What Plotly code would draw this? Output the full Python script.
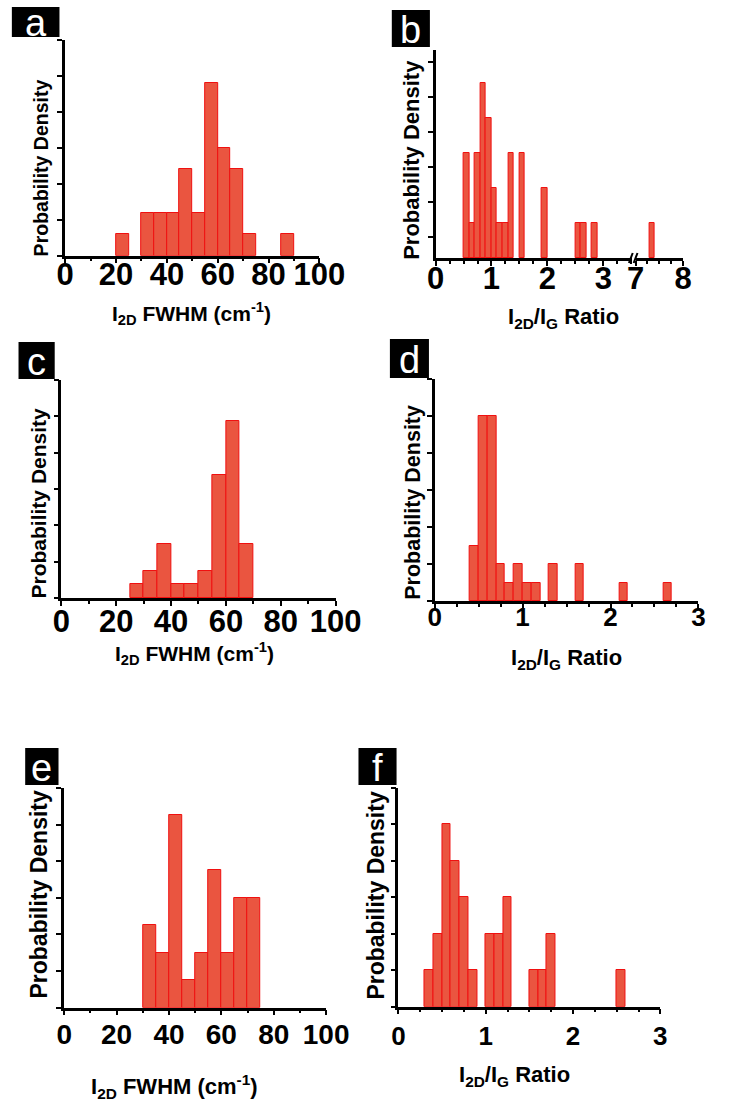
import plotly.graph_objects as go

W, H = 733, 1101

# ---------------- data (bin left edges, bin counts) ----------------
a_edges = [20, 30, 35, 40, 45, 50, 55, 60, 65, 70, 85]
a_counts = [1, 2, 2, 2, 4, 2, 8, 5, 4, 1, 1]
a_width = 5

b_edges = [0.5, 0.6, 0.7, 0.8, 0.9, 1.0, 1.1, 1.2, 1.3, 1.5, 1.9, 2.5, 2.6, 2.8, 7.3]
b_counts = [3, 1, 3, 5, 4, 2, 1, 1, 3, 3, 2, 1, 1, 1, 1]
b_width = 0.1

c_edges = [25, 30, 35, 40, 45, 50, 55, 60, 65]
c_counts = [1, 2, 4, 1, 1, 2, 9, 13, 4]
c_width = 5

d_edges = [0.4, 0.5, 0.6, 0.7, 0.8, 0.9, 1.0, 1.1, 1.3, 1.6, 2.1, 2.6]
d_counts = [3, 10, 10, 2, 1, 2, 1, 1, 2, 2, 1, 1]
d_width = 0.1

e_edges = [30, 35, 40, 45, 50, 55, 60, 65, 70]
e_counts = [3, 2, 7, 1, 2, 5, 2, 4, 4]
e_width = 5

f_edges = [0.3, 0.4, 0.5, 0.6, 0.7, 0.8, 1.0, 1.1, 1.2, 1.5, 1.6, 1.7, 2.5]
f_counts = [1, 2, 5, 4, 3, 1, 2, 2, 3, 1, 1, 2, 1]
f_width = 0.1

panel_letters = ["a", "b", "c", "d", "e", "f"]
fwhm_title = "I<sub>2D</sub> FWHM (cm<sup>-1</sup>)"
ratio_title = "I<sub>2D</sub>/I<sub>G</sub> Ratio"
y_title = "Probability Density"

# ---------------- styling ----------------
FILL = "#EA5540"
EDGE = "#F01010"
FONT = "Liberation Sans, Arial, sans-serif"


def px_x(p):
    return p / W


def px_y(p):
    return 1 - p / H


fig = go.Figure()


def add_bars(edges, counts, width, xa, ya):
    fig.add_trace(go.Bar(
        x=edges, y=counts, width=width, offset=0,
        marker=dict(color=FILL, line=dict(color=EDGE, width=1)),
        xaxis=xa, yaxis=ya, showlegend=False, hoverinfo="skip"))


add_bars(a_edges, a_counts, a_width, "x", "y")
b_left = [(e, c) for e, c in zip(b_edges, b_counts) if e < 4]
b_right = [(e, c) for e, c in zip(b_edges, b_counts) if e >= 4]
add_bars([e for e, _ in b_left], [c for _, c in b_left], b_width, "x2", "y2")
add_bars([e for e, _ in b_right], [c for _, c in b_right], b_width, "x7", "y2")
add_bars(c_edges, c_counts, c_width, "x3", "y3")
add_bars(d_edges, d_counts, d_width, "x4", "y4")
add_bars(e_edges, e_counts, e_width, "x5", "y5")
add_bars(f_edges, f_counts, f_width, "x6", "y6")


def xaxis(x0, x1, rng, dtick, minor, anchor, fsize, standoff):
    return dict(
        domain=[px_x(x0), px_x(x1)], range=rng, anchor=anchor,
        showline=True, linecolor="black", linewidth=2.5, mirror=False,
        showgrid=False, zeroline=False,
        ticks="outside", ticklen=5, tickwidth=2, tickcolor="black",
        dtick=dtick, tick0=0, tickangle=0,
        tickfont=dict(family=FONT, size=fsize, color="black", weight="bold"),
        ticklabelstandoff=standoff,
        minor=dict(dtick=minor, ticks="outside", ticklen=3, tickwidth=1.5,
                   tickcolor="black", showgrid=False),
        fixedrange=True)


def yaxis(top, base, rng, tick0, dtick, anchor):
    return dict(
        domain=[px_y(base), px_y(top)], range=rng, anchor=anchor,
        showline=True, linecolor="black", linewidth=2.5,
        showgrid=False, zeroline=False,
        ticks="outside", ticklen=5, tickwidth=2, tickcolor="black",
        tick0=tick0, dtick=dtick, showticklabels=False, fixedrange=True)


layout = dict(
    width=W, height=H, autosize=False,
    margin=dict(l=0, r=0, t=0, b=0),
    paper_bgcolor="white", plot_bgcolor="rgba(0,0,0,0)",
    bargap=0, showlegend=False,
    xaxis=xaxis(59, 326, [0, 100], 20, 10, "y", 31, -16),
    yaxis=yaxis(40, 255.7, [0, 10], 0, 10 / 6, "x"),
    xaxis2=xaxis(448, 654, [0, 3.51], 1, 0.25, "y2", 31, -14),
    xaxis7=xaxis(658, 708, [7, 8], 1, 0.25, "y2", 31, -14),
    yaxis2=yaxis(50, 258.3, [0, 5.95], 0.62, 1, "x2"),
    xaxis3=xaxis(55, 343, [0, 100], 20, 10, "y3", 31, -11),
    yaxis3=yaxis(380, 598, [0, 16], 0, 16 / 6, "x3"),
    xaxis4=xaxis(447, 724, [0, 3], 1, 0.25, "y4", 26, -14),
    yaxis4=yaxis(379, 601, [0, 12], 0, 2, "x4"),
    xaxis5=xaxis(58, 333, [0, 100], 20, 10, "y5", 28, -5),
    yaxis5=yaxis(788, 1007.7, [0, 8], 0, 8 / 6, "x5"),
    xaxis6=xaxis(409, 684, [0, 3], 1, 0.25, "y6", 26, -1),
    yaxis6=yaxis(788, 1006.7, [0, 6], 0, 1, "x6"),
)

shapes = []
annotations = []

# panel letter boxes
boxes = [(3, 7, 53, 37), (402, 10, 442, 47), (10, 342, 48, 379),
         (400, 339, 441, 378), (17, 748, 52, 785), (367, 748, 407, 785)]
for letter, (x0, y0, x1, y1) in zip(panel_letters, boxes):
    shapes.append(dict(type="rect", xref="paper", yref="paper",
                       x0=px_x(x0), x1=px_x(x1), y0=px_y(y1), y1=px_y(y0),
                       fillcolor="black", line=dict(width=0), layer="above"))
    annotations.append(dict(text=letter, xref="paper", yref="paper",
                            x=px_x((x0 + x1) / 2), y=px_y((y0 + y1) / 2 + 1),
                            xanchor="center", yanchor="middle", showarrow=False,
                            font=dict(family=FONT, size=38, color="white")))

# axis break marks on panel b
for dx in (0, 5):
    shapes.append(dict(type="line", xref="paper", yref="paper",
                       x0=px_x(651 + dx), y0=px_y(263), x1=px_x(655 + dx), y1=px_y(253),
                       line=dict(color="black", width=2)))

# y titles
ytitles = [(34, 168, 19.5), (422, 160, 22), (32, 503, 21),
           (424, 502, 21.5), (31, 894, 23), (385, 895, 23)]
for (cx, cy, fs) in ytitles:
    annotations.append(dict(text=y_title, xref="paper", yref="paper",
                            x=px_x(cx), y=px_y(cy), xanchor="center", yanchor="middle",
                            textangle=-90, showarrow=False,
                            font=dict(family=FONT, size=fs, color="black", weight="bold")))

# x titles
xtitles = [(fwhm_title, 192, 313, 21), (ratio_title, 582, 318, 22),
           (fwhm_title, 195, 653, 21), (ratio_title, 585, 659, 22),
           (fwhm_title, 174, 1086, 22), (ratio_title, 531, 1076, 22)]
for (txt, cx, cy, fs) in xtitles:
    annotations.append(dict(text=txt, xref="paper", yref="paper",
                            x=px_x(cx), y=px_y(cy), xanchor="center", yanchor="middle",
                            showarrow=False,
                            font=dict(family=FONT, size=fs, color="black", weight="bold")))

layout["shapes"] = shapes
layout["annotations"] = annotations
fig.update_layout(**layout)

fig.write_html("out.html")
